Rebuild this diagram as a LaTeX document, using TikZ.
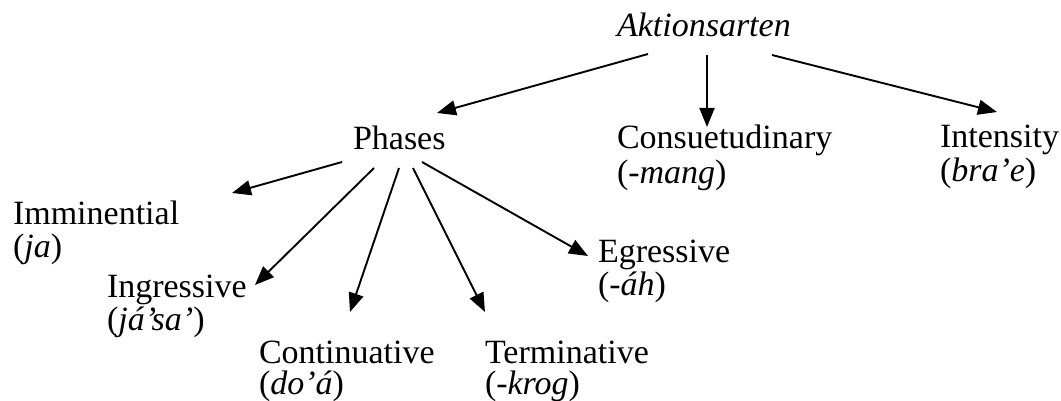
\documentclass[tikz,border=0pt]{standalone}
\usepackage{fontspec}
\setmainfont{Liberation Serif}
\usetikzlibrary{arrows.meta}
\begin{document}
\begin{tikzpicture}[x=1pt,y=-1pt,
  lbl/.style={inner sep=0pt,outer sep=0pt,anchor=base west,font=\fontsize{34}{34}\selectfont},
  arr/.style={line width=1.9pt,-{Triangle[length=19pt,width=15pt]}}]
\useasboundingbox (0,0) rectangle (1061,401);
% nodes
\node[lbl] (akt) at (617,37) {\textit{Aktionsarten}};
\node[lbl] (phases) at (353,150) {Phases};
\node[lbl] (cons) at (617,149) {Consuetudinary};
\node[lbl] (cons2) at (617,183) {(-\textit{mang})};
\node[lbl] (int) at (940,148) {Intensity};
\node[lbl] (int2) at (940,182) {(\textit{bra’e})};
\node[lbl] (imm) at (13,225) {Imminential};
\node[lbl] (imm2) at (13,258) {(\textit{ja})};
\node[lbl] (ing) at (107,297) {Ingressive};
\node[lbl] (ing2) at (107,330) {(\textit{já’sa’})};
\node[lbl] (cont) at (259,363) {Continuative};
\node[lbl] (cont2) at (259,394) {(\textit{do’á})};
\node[lbl] (term) at (485,363) {Terminative};
\node[lbl] (term2) at (485,394) {(-\textit{krog})};
\node[lbl] (egr) at (598,262) {Egressive};
\node[lbl] (egr2) at (598,295) {(-\textit{áh})};
% connectors
\draw[arr] ([shift={(31,17)}]akt.base west) -- ([shift={(84,-37)}]phases.base west);
\draw[arr] ([shift={(90,18)}]akt.base west) -- ([shift={(90,-22)}]cons.base west);
\draw[arr] ([shift={(155,18)}]akt.base west) -- ([shift={(57,-36)}]int.base west);
\draw[arr] ([shift={(-11,12)}]phases.base west) -- ([shift={(219,-32)}]imm.base west);
\draw[arr] ([shift={(21,18)}]phases.base west) -- ([shift={(148,-12)}]ing.base west);
\draw[arr] ([shift={(46,18)}]phases.base west) -- ([shift={(91,-51)}]cont.base west);
\draw[arr] ([shift={(60,18)}]phases.base west) -- ([shift={(0,-51)}]term.base west);
\draw[arr] ([shift={(69,12)}]phases.base west) -- ([shift={(-10,-6)}]egr.base west);
\end{tikzpicture}
\end{document}
